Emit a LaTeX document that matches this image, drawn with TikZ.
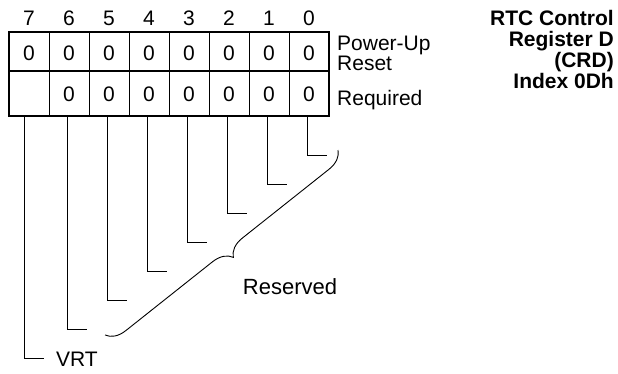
\documentclass[tikz,border=0pt]{standalone}
\usepackage{fontspec}
\setmainfont{Liberation Sans}
\usetikzlibrary{decorations.pathreplacing}

\begin{document}
\begin{tikzpicture}[x=1pt,y=1pt,
  lbl/.style={inner sep=0pt,font=\fontsize{21}{18}\selectfont},
  leader/.style={line width=0.9pt}]
\useasboundingbox (0,0) rectangle (618,-373);
% register cells
\foreach \c in {1,...,7}
  \draw[line width=0.9pt] (9+40*\c,-32) -- (9+40*\c,-116);
\draw[line width=2.6pt] (9,-71) -- (329,-71);
\draw[line width=2.6pt] (9,-32) rectangle (329,-116);
% bit numbers and values
\foreach \b in {0,...,7} {
  \node[lbl] (b\b) at (329-20-40*\b,-18) {\b};
  \node[lbl] (p\b) at (329-20-40*\b,-53) {0};
}
\foreach \b in {0,...,6}
  \node[lbl] (r\b) at (329-20-40*\b,-94) {0};
\node[lbl,anchor=west,align=left] (pur) at (337,-53) {Power-Up\\Reset};
\node[lbl,anchor=west] (req) at (337,-100) {Required};
% leaders
\foreach \b in {0,...,6} {
  \coordinate (t\b) at (329-22-40*\b,-116);
  \coordinate (e\b) at (329-2-40*\b,-155-29*\b);
  \draw[leader] (t\b) |- (e\b);
}
\coordinate (t7) at (24,-116);
\coordinate (e7) at (44,-358);
\draw[leader] (t7) |- (e7);
\node[lbl,anchor=west] (vrt) at (56,-359) {VRT};
% reserved brace
\coordinate (br0) at (338,-150);
\coordinate (br6) at (105,-335);
\draw[leader,decorate,decoration={brace,amplitude=19pt}] (br0) -- (br6);
\node[lbl,font=\fontsize{22}{22}\selectfont] (res) at (290,-287) {Reserved};
% title
\node[lbl,anchor=north east,align=right,font=\fontsize{21}{21}\selectfont\bfseries] (title) at (614,-10)
  {RTC Control\\Register D\\(CRD)\\Index 0Dh};
\end{tikzpicture}
\end{document}
